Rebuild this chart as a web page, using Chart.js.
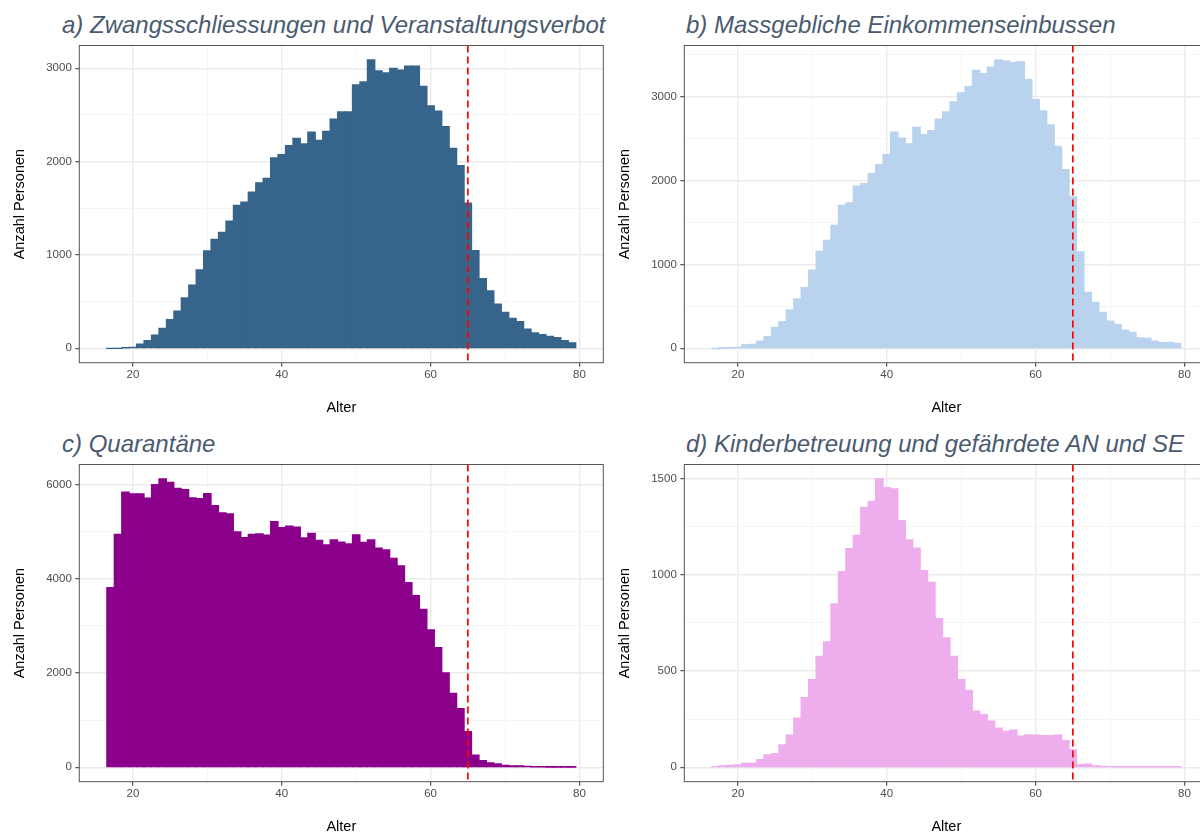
<!DOCTYPE html>
<html>
<head>
<meta charset="utf-8">
<script src="https://cdn.jsdelivr.net/npm/chart.js@4.4.1/dist/chart.umd.min.js"></script>
<style>
  html, body { margin: 0; padding: 0; background: #fff; }
  body { width: 1200px; height: 832px; overflow: hidden; position: relative; font-family: "Liberation Sans", Arial, sans-serif; }
  .panel { position: absolute; width: 606px; height: 380px; }
  .title { position: absolute; font-style: italic; font-size: 24px; line-height: 1; color: #4a5a70; white-space: nowrap; }
</style>
</head>
<body>
<div class="title" style="left:62px; top:13px;">a) Zwangsschliessungen und Veranstaltungsverbot</div>
<div class="title" style="left:686px; top:13px;">b) Massgebliche Einkommenseinbussen</div>
<div class="title" style="left:62px; top:432px;">c) Quarantäne</div>
<div class="title" style="left:686px; top:432px;">d) Kinderbetreuung und gefährdete AN und SE</div>

<canvas id="chartA" class="panel" width="606" height="380" style="left:0px; top:40px;"></canvas>
<canvas id="chartB" class="panel" width="606" height="380" style="left:605px; top:40px;"></canvas>
<canvas id="chartC" class="panel" width="606" height="380" style="left:0px; top:459px;"></canvas>
<canvas id="chartD" class="panel" width="606" height="380" style="left:605px; top:459px;"></canvas>

<script>
// ages 17..79, one bar per year
var ages = [17, 18, 19, 20, 21, 22, 23, 24, 25, 26, 27, 28, 29, 30, 31, 32, 33, 34, 35, 36, 37, 38, 39,
  40, 41, 42, 43, 44, 45, 46, 47, 48, 49, 50, 51, 52, 53, 54, 55, 56, 57, 58, 59, 60, 61, 62, 63, 64,
  65, 66, 67, 68, 69, 70, 71, 72, 73, 74, 75, 76, 77, 78, 79];

var zwang = [0, 0, 5, 10, 46, 82, 142, 214, 306, 399, 541, 676, 840, 1043, 1167, 1242, 1363, 1530, 1566,
  1673, 1772, 1819, 2039, 2075, 2171, 2249, 2189, 2317, 2228, 2324, 2456, 2534, 2534, 2822, 2854, 3089,
  2972, 2950, 3000, 2979, 3022, 3022, 2805, 2598, 2541, 2374, 2142, 1957, 1555, 1046, 747, 616, 473, 384,
  320, 285, 206, 164, 146, 128, 114, 82, 57];

var einkommen = [0, 3, 5, 12, 40, 47, 87, 138, 249, 317, 459, 590, 724, 930, 1155, 1286, 1464, 1702, 1733,
  1931, 1963, 2081, 2188, 2307, 2576, 2505, 2434, 2632, 2545, 2592, 2730, 2817, 2936, 3043, 3118, 3312,
  3273, 3348, 3435, 3423, 3403, 3415, 3201, 2963, 2829, 2663, 2406, 2129, 1804, 1148, 665, 546, 427, 324,
  281, 218, 190, 123, 119, 87, 67, 71, 59];

var quarantaene = [3812, 4942, 5839, 5803, 5803, 5712, 6001, 6121, 6050, 5923, 5895, 5719, 5704, 5810,
  5556, 5401, 5380, 4998, 4878, 4942, 4956, 4928, 5217, 5090, 5119, 5097, 4871, 4963, 4815, 4723, 4829,
  4780, 4744, 4935, 4773, 4829, 4652, 4617, 4434, 4278, 3918, 3643, 3354, 2916, 2542, 2005, 1567, 1243,
  755, 261, 141, 92, 71, 42, 28, 28, 21, 7, 7, 5, 5, 3, 5];

var kinder = [3, 7, 10, 12, 21, 21, 40, 64, 71, 117, 167, 255, 362, 456, 576, 651, 849, 1017, 1136, 1205,
  1350, 1381, 1498, 1453, 1446, 1282, 1181, 1139, 1022, 961, 772, 673, 576, 456, 400, 292, 274, 240, 204,
  187, 193, 162, 169, 167, 164, 164, 167, 138, 91, 14, 16, 7, 5, 3, 2, 2, 2, 2, 2, 2, 2, 2, 2];

var xMajor = [20, 40, 60, 80];
var xMinor = [30, 50, 70];
var yMajorA = [0, 1000, 2000, 3000];
var yMajorB = [0, 1000, 2000, 3000];
var yMajorC = [0, 2000, 4000, 6000];
var yMajorD = [0, 500, 1000, 1500];
var cutoffAge = 65;

Chart.defaults.font.family = "'Liberation Sans', Arial, sans-serif";

var panelDeco = {
  id: 'panelDeco',
  afterDatasetsDraw: function(chart) {
    var a = chart.chartArea;
    var ctx = chart.ctx;
    var x = chart.scales.x.getPixelForValue(cutoffAge);
    ctx.save();
    ctx.strokeStyle = '#ff0000';
    ctx.lineWidth = 1.7;
    ctx.setLineDash([7, 4]);
    ctx.beginPath();
    ctx.moveTo(x, a.top);
    ctx.lineTo(x, a.bottom);
    ctx.stroke();
    ctx.setLineDash([]);
    ctx.strokeStyle = '#555555';
    ctx.lineWidth = 1;
    ctx.strokeRect(a.left, a.top, a.right - a.left, a.bottom - a.top);
    ctx.restore();
  }
};

var makePanel = function(id, counts, color, yMajor){
  var maxVal = Math.max.apply(null, counts);
  var yMin = -0.05 * maxVal;
  var yMax = 1.05 * maxVal;
  var step = yMajor[1] - yMajor[0];
  var yMinor = [];
  for(var i = 0; i < yMajor.length; i++){
    var m = yMajor[i] + step / 2;
    if(m < yMax) yMinor.push(m);
  }
  var points = [];
  for(var i = 0; i < ages.length; i++){
    points.push({x: ages[i], y: counts[i]});
  }
  var isMajorX = function(v){ return xMajor.indexOf(v) >= 0; };
  var isMajorY = function(v){ return yMajor.indexOf(v) >= 0; };

  new Chart(document.getElementById(id).getContext('2d'), {
    type: 'bar',
    data: {
      datasets: [{
        data: points,
        backgroundColor: color,
        borderWidth: 0,
        inflateAmount: 0.6,
        barPercentage: 1,
        categoryPercentage: 1
      }]
    },
    options: {
      responsive: false,
      animation: false,
      devicePixelRatio: 1,
      layout: {padding: {top: 5.5, right: 2.7, left: 0, bottom: 0}},
      plugins: {legend: {display: false}, tooltip: {enabled: false}},
      scales: {
        x: {
          type: 'linear',
          min: 12.8,
          max: 83.2,
          offset: false,
          afterBuildTicks: function(s){
            s.ticks = xMajor.concat(xMinor).sort(function(a, b){ return a - b; }).map(function(v){ return {value: v}; });
          },
          afterFit: function(s){
            s.height = 57.3;
            s.paddingLeft = 0;
            s.paddingRight = 0;
          },
          ticks: {
            autoSkip: false,
            maxRotation: 0,
            padding: 1,
            color: '#4d4d4d',
            font: {size: 11.5},
            callback: function(v){ return isMajorX(v) ? '' + v : ''; }
          },
          grid: {
            offset: false,
            drawTicks: true,
            tickLength: 4,
            tickWidth: 1,
            tickColor: function(c){ return c.tick && isMajorX(c.tick.value) ? '#333333' : 'rgba(0,0,0,0)'; },
            color: function(c){ return c.tick && isMajorX(c.tick.value) ? '#ebebeb' : '#f2f2f2'; },
            lineWidth: function(c){ return c.tick && isMajorX(c.tick.value) ? 1.4 : 0.8; }
          },
          border: {display: false},
          title: {display: true, text: 'Alter', color: '#000000', font: {size: 14.5}, padding: {top: 0, bottom: 3.6}}
        },
        y: {
          type: 'linear',
          min: yMin,
          max: yMax,
          afterBuildTicks: function(s){
            s.ticks = yMajor.concat(yMinor).sort(function(a, b){ return a - b; }).map(function(v){ return {value: v}; });
          },
          afterFit: function(s){
            s.width = 79.3;
            s.paddingTop = 0;
            s.paddingBottom = 0;
          },
          ticks: {
            autoSkip: false,
            padding: 3.5,
            color: '#4d4d4d',
            font: {size: 11.5},
            callback: function(v){ return isMajorY(v) ? '' + v : ''; }
          },
          grid: {
            drawTicks: true,
            tickLength: 4,
            tickWidth: 1,
            tickColor: function(c){ return c.tick && isMajorY(c.tick.value) ? '#333333' : 'rgba(0,0,0,0)'; },
            color: function(c){ return c.tick && isMajorY(c.tick.value) ? '#ebebeb' : '#f2f2f2'; },
            lineWidth: function(c){ return c.tick && isMajorY(c.tick.value) ? 1.4 : 0.8; }
          },
          border: {display: false},
          title: {display: true, text: 'Anzahl Personen', color: '#000000', font: {size: 14.5}, padding: {top: 11.6, bottom: 0}}
        }
      }
    },
    plugins: [panelDeco]
  });
};

makePanel('chartA', zwang, '#36648B', yMajorA);
makePanel('chartB', einkommen, '#B9D3EE', yMajorB);
makePanel('chartC', quarantaene, '#8B008B', yMajorC);
makePanel('chartD', kinder, '#EEAEEE', yMajorD);
</script>
</body>
</html>
